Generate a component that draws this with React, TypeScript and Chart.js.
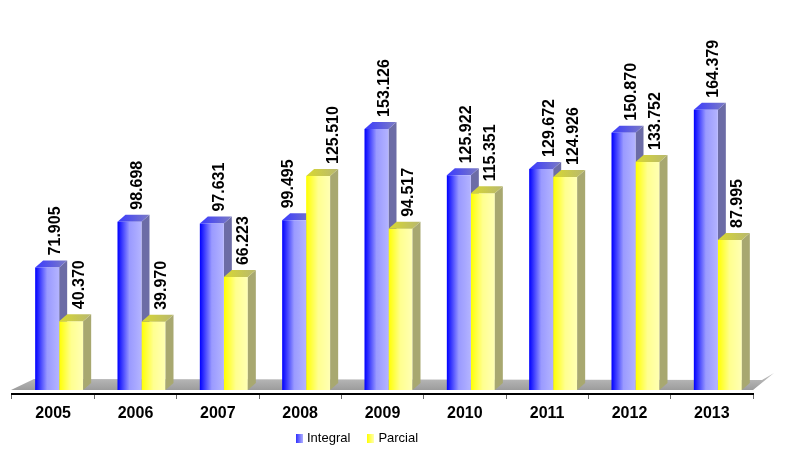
import React, { useEffect, useRef } from "react";
import { Chart, registerables } from "chart.js";

Chart.register(...registerables);

const categories = ["2005", "2006", "2007", "2008", "2009", "2010", "2011", "2012", "2013"];
const integralValues = [71.905, 98.698, 97.631, 99.495, 153.126, 125.922, 129.672, 150.87, 164.379];
const parcialValues = [40.37, 39.97, 66.223, 125.51, 94.517, 115.351, 124.926, 133.752, 87.995];
const seriesNames = ["Integral", "Parcial"];

const W = 793;
const H = 453;
const SHIFT = 6;
const DX = 8;
const DY = 7;
const LABEL_FONT = "bold 16px 'Liberation Sans', Arial, sans-serif";

const frontStops = [
  [[0, "#0000ff"], [0.5, "#9a9aff"], [1, "#b4b4ff"]],
  [[0, "#ffff00"], [0.5, "#ffff90"], [1, "#ffffb4"]],
];
const sideColors = ["#6c6ca6", "#a8a870"];
const topStops = [
  [[0, "#3a3aff"], [1, "#7c7cc4"]],
  [[0, "#d8d830"], [1, "#b8b870"]],
];

function drawFaces(chart: any, dsIndex: number) {
  const ctx = chart.ctx;
  const meta = chart.getDatasetMeta(dsIndex);
  meta.data.forEach((el: any) => {
    const left = el.x - el.width / 2;
    const right = el.x + el.width / 2;
    const top = el.y;
    const base = el.base;
    ctx.beginPath();
    ctx.moveTo(right, top);
    ctx.lineTo(right + DX, top - DY);
    ctx.lineTo(right + DX, base - DY);
    ctx.lineTo(right, base);
    ctx.closePath();
    ctx.fillStyle = sideColors[dsIndex];
    ctx.fill();
    const g = ctx.createLinearGradient(left, 0, right + DX, 0);
    topStops[dsIndex].forEach((s: any) => g.addColorStop(s[0], s[1]));
    ctx.beginPath();
    ctx.moveTo(left, top);
    ctx.lineTo(right, top);
    ctx.lineTo(right + DX, top - DY);
    ctx.lineTo(left + DX, top - DY);
    ctx.closePath();
    ctx.fillStyle = g;
    ctx.fill();
  });
}

const bar3d = {
  id: "bar3d",
  beforeDatasetsDraw(chart: any) {
    const ctx = chart.ctx;
    const area = chart.chartArea;
    const base = chart.scales.y.getPixelForValue(0);
    ctx.save();
    const fg = ctx.createLinearGradient(0, base - 17, 0, base);
    fg.addColorStop(0, "#c4c4c4");
    fg.addColorStop(1, "#9c9c9c");
    ctx.beginPath();
    ctx.moveTo(area.left - 1, base);
    ctx.lineTo(area.right, base);
    ctx.lineTo(area.right + 21, base - 17);
    ctx.lineTo(area.right + 9, base - 10);
    ctx.lineTo(area.left + 22, base - 11);
    ctx.closePath();
    ctx.fillStyle = fg;
    ctx.fill();
    ctx.restore();

    ctx.save();
    ctx.translate(SHIFT, 0);
    [0, 1].forEach((d) => {
      const meta = chart.getDatasetMeta(d);
      meta.data.forEach((el: any) => {
        const left = el.x - el.width / 2;
        const right = el.x + el.width / 2;
        const g = ctx.createLinearGradient(left, 0, right, 0);
        frontStops[d].forEach((s: any) => g.addColorStop(s[0], s[1]));
        if (el.options) el.options.backgroundColor = g;
      });
    });
    drawFaces(chart, 0);
  },
  afterDatasetsDraw(chart: any) {
    const ctx = chart.ctx;
    drawFaces(chart, 1);
    ctx.font = LABEL_FONT;
    ctx.fillStyle = "#000";
    ctx.textAlign = "left";
    ctx.textBaseline = "middle";
    const m0 = chart.getDatasetMeta(0).data;
    const m1 = chart.getDatasetMeta(1).data;
    [0, 1].forEach((d) => {
      const meta = d === 0 ? m0 : m1;
      const vals = chart.data.datasets[d].data;
      meta.forEach((el: any, i: number) => {
        // when the second bar is taller, spread the labels apart to avoid overlap
        let nudge = 0;
        if (m1[i].y < m0[i].y - 20) nudge = d === 0 ? -14 : 7;
        ctx.save();
        ctx.translate(el.x + DX + nudge, el.y - 12);
        ctx.rotate(-Math.PI / 2);
        ctx.fillText(Number(vals[i]).toFixed(3), 0, 0);
        ctx.restore();
      });
    });
    ctx.restore();
  },
};

export default function App() {
  const ref = useRef<HTMLCanvasElement | null>(null);
  useEffect(() => {
    if (!ref.current) return;
    const chart = new Chart(ref.current, {
      type: "bar",
      data: {
        labels: categories,
        datasets: [
          {
            label: seriesNames[0],
            data: integralValues,
            backgroundColor: () => "#4040ff",
            borderWidth: 0,
            categoryPercentage: 0.583,
            barPercentage: 1,
          },
          {
            label: seriesNames[1],
            data: parcialValues,
            backgroundColor: () => "#ffff60",
            borderWidth: 0,
            categoryPercentage: 0.583,
            barPercentage: 1,
          },
        ],
      },
      options: {
        responsive: false,
        animation: false,
        layout: { padding: { top: 49, left: 12, right: 40, bottom: 0 } },
        plugins: { legend: { display: false }, tooltip: { enabled: false } },
        scales: {
          x: {
            afterFit: (s: any) => {
              s.height = 59;
            },
            border: { display: true, color: "#000", width: 2 },
            grid: { display: true, drawOnChartArea: false, drawTicks: true, tickLength: 5, color: "#666" },
            ticks: {
              color: "#000",
              padding: 5,
              font: { family: "'Liberation Sans', Arial, sans-serif", size: 16, weight: "bold" },
            },
          },
          y: { display: false, min: -2.346, max: 200 },
        },
      },
      plugins: [bar3d],
    });
    return () => chart.destroy();
  }, []);

  const legendFont = "'Liberation Sans', Arial, sans-serif";
  return (
    <div style={{ position: "absolute", left: 0, top: 0, width: W, height: H, background: "#fff" }}>
      <canvas ref={ref} width={W} height={H} style={{ width: W, height: H, display: "block" }} />
      <div
        style={{
          position: "absolute",
          left: 296,
          top: 430,
          display: "flex",
          alignItems: "center",
          fontFamily: legendFont,
          fontSize: 13,
          color: "#000",
          lineHeight: "16px",
        }}
      >
        <span style={{ display: "inline-block", width: 7, height: 9, background: "linear-gradient(to right, #3030ff, #b0b0ff)", marginRight: 4 }} />
        <span>{seriesNames[0]}</span>
        <span style={{ display: "inline-block", width: 7, height: 9, background: "linear-gradient(to right, #ffff00, #ffffb0)", marginLeft: 17, marginRight: 4 }} />
        <span>{seriesNames[1]}</span>
      </div>
    </div>
  );
}
